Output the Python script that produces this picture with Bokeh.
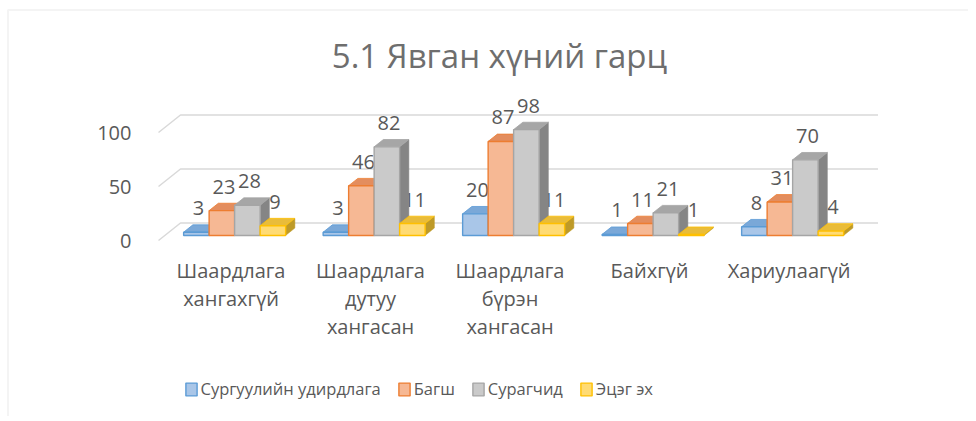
from bokeh.plotting import figure
from bokeh.models import (Range1d, FixedTicker, ColumnDataSource, Legend, LegendItem,
                          BoxAnnotation, Label)
from bokeh.embed import file_html
from bokeh.resources import INLINE
from bokeh.core.properties import value

# ---------------- data ----------------
title_text = "5.1 Явган хүний гарц"
categories = ["Шаардлага\nхангахгүй", "Шаардлага\nдутуу\nхангасан",
              "Шаардлага\nбүрэн\nхангасан", "Байхгүй", "Хариулаагүй"]
series_names = ["Сургуулийн удирдлага", "Багш", "Сурагчид", "Эцэг эх"]
school_admin = [3, 3, 20, 1, 8]
teachers = [23, 46, 87, 11, 31]
students = [28, 82, 98, 21, 70]
parents = [9, 11, 11, 1, 4]
y_ticks = [0, 50, 100]

series_values = [school_admin, teachers, students, parents]

# ---------------- style ----------------
front_colors = ["#A9C6E8", "#F6B894", "#CACACA", "#FFDB74"]
edge_colors = ["#5B9BD5", "#ED7D31", "#A5A5A5", "#FFC000"]
top_colors = ["#7AA8D8", "#E38D5E", "#A6A6A6", "#E9BC3A"]
side_colors = ["#5E8BBE", "#C46D3E", "#858585", "#BE9A28"]
text_color = "#595959"
FONT = "Open Sans"

W, H = 968, 416
PX_PER_CAT = 139.5           # one category slot
PX_PER_UNIT = 1.08           # one value unit
ORIGIN_X, ORIGIN_Y = 158, 240  # front-left corner of the floor, in canvas px
DDX = 22 / PX_PER_CAT        # full floor depth, x (data units)
DDY = 17.5 / PX_PER_UNIT     # full floor depth, y (data units)
F_D, B_D = 0.29, 0.71        # bar front / back depth fractions
BAR_W = 25.5 / PX_PER_CAT
GROUP_W = 4 * BAR_W

p = figure(width=W, height=H, output_backend="svg", toolbar_location=None,
           x_range=Range1d(-ORIGIN_X / PX_PER_CAT, (W - ORIGIN_X) / PX_PER_CAT),
           y_range=Range1d(-(H - ORIGIN_Y) / PX_PER_UNIT, ORIGIN_Y / PX_PER_UNIT),
           min_border=0, min_border_left=0, min_border_right=0,
           min_border_top=0, min_border_bottom=0)
p.outline_line_color = None
p.xgrid.visible = False
p.ygrid.visible = False
p.background_fill_color = "white"
p.border_fill_color = "white"

# y axis (drawn at the left edge of the floor)
ya = p.yaxis[0]
ya.fixed_location = -8 / PX_PER_CAT
ya.ticker = FixedTicker(ticks=y_ticks)
ya.axis_line_color = None
ya.major_tick_line_color = None
ya.minor_tick_line_color = None
ya.major_label_standoff = 13
ya.major_label_text_font = FONT
ya.major_label_text_font_size = "20px"
ya.major_label_text_color = text_color

# x axis (drawn at the floor's front edge)
xa = p.xaxis[0]
xa.fixed_location = 0
cat_pos = [i + 0.5 + 0.02 for i in range(len(categories))]
xa.ticker = FixedTicker(ticks=cat_pos)
xa.major_label_overrides = {cp: c for cp, c in zip(cat_pos, categories)}
xa.axis_line_color = None
xa.major_tick_line_color = None
xa.minor_tick_line_color = None
xa.major_label_standoff = 10
xa.major_label_text_font = FONT
xa.major_label_text_font_size = "20px"
xa.major_label_text_color = text_color
xa.major_label_text_line_height = 1.04

# title
p.add_layout(Label(x=499, y=H - 55, x_units="screen", y_units="screen",
                   text=title_text, text_align="center", text_baseline="middle",
                   text_font=FONT, text_font_size="33px", text_color="#6e6e6e"))

# perspective gridlines (front-left diagonal + back wall)
n = len(categories)
gxs = [[0, DDX, n + DDX] for t in y_ticks]
gys = [[t, t + DDY, t + DDY] for t in y_ticks]
p.multi_line(gxs, gys, line_color="#D9D9D9", line_width=1.5)

# data labels (drawn first so that bars overlap them, as in the original)
lx, ly, lt = [], [], []
for s, vals in enumerate(series_values):
    for i, v in enumerate(vals):
        x0 = i + 0.5 - GROUP_W / 2 + s * BAR_W + F_D * DDX
        lx.append(x0 + BAR_W / 2)
        ly.append(F_D * DDY + v)
        lt.append(str(v))
p.text(x="x", y="y", text="t", source=ColumnDataSource(dict(x=lx, y=ly, t=lt)),
       text_font=value(FONT), text_font_size="20px", text_color=text_color,
       text_align="center", text_baseline="middle", x_offset=2, y_offset=-24)

# 3D bars
bx = (B_D - F_D) * DDX
by = (B_D - F_D) * DDY
renderers = []
for s, vals in enumerate(series_values):
    xs, ys, fills, lines, widths = [], [], [], [], []
    for i, v in enumerate(vals):
        xf0 = i + 0.5 - GROUP_W / 2 + s * BAR_W + F_D * DDX
        xf1 = xf0 + BAR_W
        yf0 = F_D * DDY
        yf1 = yf0 + v
        # side
        xs.append([xf1, xf1 + bx, xf1 + bx, xf1])
        ys.append([yf0, yf0 + by, yf1 + by, yf1])
        fills.append(side_colors[s]); lines.append(side_colors[s]); widths.append(0.5)
        # top
        xs.append([xf0, xf1, xf1 + bx, xf0 + bx])
        ys.append([yf1, yf1, yf1 + by, yf1 + by])
        fills.append(top_colors[s]); lines.append(edge_colors[s]); widths.append(0.8)
        # front
        xs.append([xf0, xf1, xf1, xf0])
        ys.append([yf0, yf0, yf1, yf1])
        fills.append(front_colors[s]); lines.append(edge_colors[s]); widths.append(1.4)
    src = ColumnDataSource(dict(xs=xs, ys=ys, f=fills, l=lines, w=widths))
    r = p.patches("xs", "ys", source=src, fill_color="f", line_color="l",
                  line_width="w")
    renderers.append(r)

legend = Legend(items=[LegendItem(label=nm, renderers=[r], index=2)
                       for nm, r in zip(series_names, renderers)],
                orientation="horizontal", location=(183.5, H - 400),
                label_text_font=FONT, label_text_font_size="16.5px",
                label_text_color=text_color, glyph_width=14, glyph_height=16,
                label_standoff=3, spacing=16, padding=0, margin=0,
                border_line_color=None, background_fill_alpha=0)
p.add_layout(legend)

# chart-area border (cropped at right/bottom like the original)
p.add_layout(BoxAnnotation(left=7.5, right=3000, top=9.5, bottom=3000,
                           left_units="canvas", right_units="canvas",
                           top_units="canvas", bottom_units="canvas",
                           fill_alpha=0, line_color="#D9D9D9", line_width=2))

open("out.html", "w").write(file_html(p, INLINE))
